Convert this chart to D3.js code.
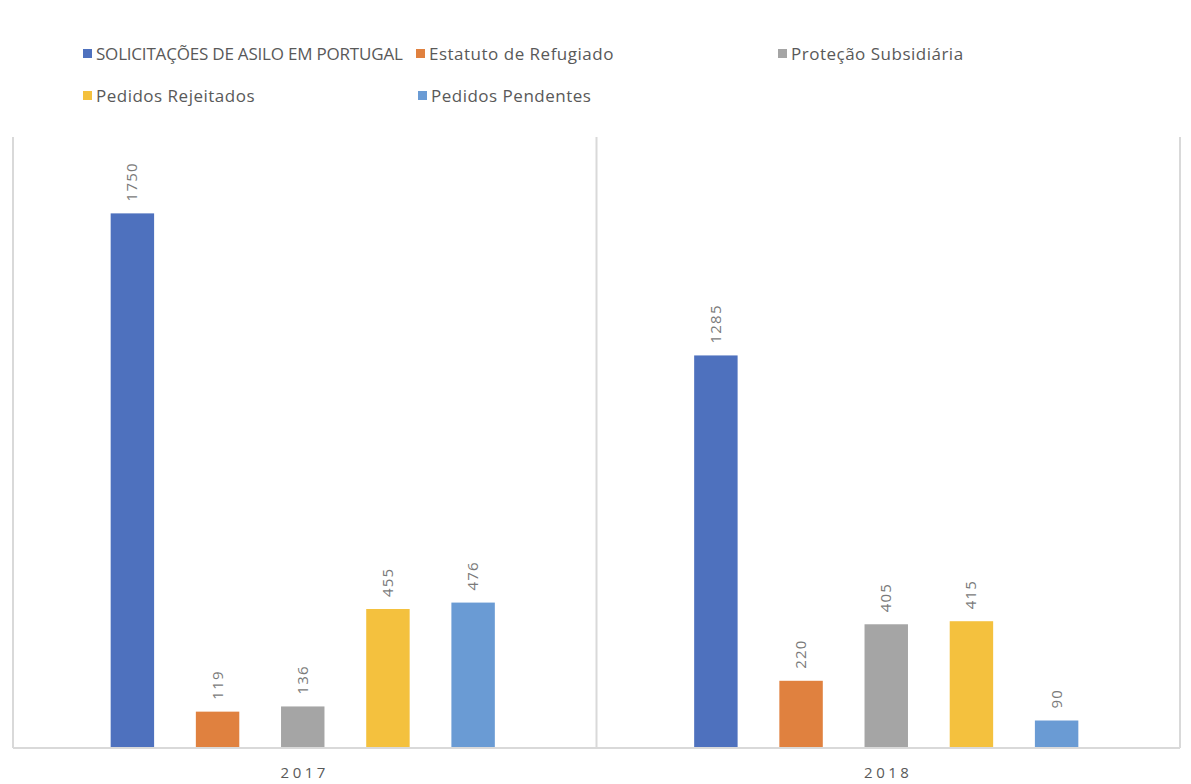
<!DOCTYPE html>
<html>
<head>
<meta charset="utf-8">
<script src="https://cdn.jsdelivr.net/npm/d3@7"></script>
<style>
  html, body { margin: 0; padding: 0; background: #fff; }
  svg { display: block; font-family: "Open Sans", "Noto Sans", sans-serif; }
</style>
</head>
<body>
<svg id="chart" width="1191" height="784"></svg>
<script>
// Asylum requests in Portugal, by outcome, per year
const years = ["2017", "2018"];
const seriesNames = [
  "SOLICITAÇÕES DE ASILO EM PORTUGAL",
  "Estatuto de Refugiado",
  "Proteção Subsidiária",
  "Pedidos Rejeitados",
  "Pedidos Pendentes"
];
const values2017 = [1750, 119, 136, 455, 476];
const values2018 = [1285, 220, 405, 415, 90];
const seriesColors = ["#4e71be", "#e0813f", "#a5a5a5", "#f4c13e", "#6a9bd4"];

const valuesByYear = { "2017": values2017, "2018": values2018 };

const svg = d3.select("#chart");
const plot = { left: 13, right: 1180, top: 137, bottom: 748 };

const x0 = d3.scaleBand().domain(years).range([plot.left, plot.right]).padding(0);
const x1 = d3.scaleBand().domain(seriesNames)
  .range([-2, x0.bandwidth() - 2])
  .paddingInner(0.49)
  .paddingOuter(1.17);
const y = d3.scaleLinear().domain([0, 2000]).range([plot.bottom, plot.top]);

const axisColor = "#d9d9d9";

// Category separators (left, middle, right)
const sepX = years.map(d => x0(d)).concat([x0(years[years.length - 1]) + x0.bandwidth()]);
svg.append("g").selectAll("line").data(sepX).join("line")
  .attr("x1", d => d).attr("x2", d => d)
  .attr("y1", plot.top).attr("y2", plot.bottom)
  .attr("stroke", axisColor).attr("stroke-width", 2);

// Bars
const groups = svg.append("g").selectAll("g").data(years).join("g")
  .attr("transform", d => `translate(${x0(d)},0)`);

groups.selectAll("rect")
  .data(yr => seriesNames.map((s, i) => ({ s, i, v: valuesByYear[yr][i] })))
  .join("rect")
  .attr("x", d => x1(d.s))
  .attr("width", x1.bandwidth())
  .attr("y", d => y(d.v))
  .attr("height", d => y(0) - y(d.v))
  .attr("fill", d => seriesColors[d.i]);

// Value labels, rotated above each bar
groups.selectAll("text.val")
  .data(yr => seriesNames.map((s, i) => ({ s, i, v: valuesByYear[yr][i] })))
  .join("text")
  .attr("class", "val")
  .attr("transform", d => `translate(${x1(d.s) + x1.bandwidth() / 2 + 5},${y(d.v) - 12}) rotate(-90)`)
  .attr("text-anchor", "start")
  .attr("font-size", 15)
  .attr("letter-spacing", "1.2px")
  .attr("fill", "#7a7a7a")
  .text(d => d.v);

// Horizontal category axis
svg.append("line")
  .attr("x1", plot.left).attr("x2", plot.right)
  .attr("y1", plot.bottom).attr("y2", plot.bottom)
  .attr("stroke", axisColor).attr("stroke-width", 2);

const xAxis = d3.axisBottom(x0).tickSize(0).tickPadding(19);
const gx = svg.append("g").attr("transform", `translate(0,${plot.bottom})`).call(xAxis);
gx.select(".domain").remove();
gx.selectAll("text")
  .attr("font-size", 15)
  .attr("fill", "#595959")
  .attr("letter-spacing", "3.5px")
  .attr("font-family", "\"Open Sans\", sans-serif");

// Legend
const legendPos = [
  { x: 83, y: 54 }, { x: 416, y: 54 }, { x: 778, y: 54 },
  { x: 83, y: 96 }, { x: 418, y: 96 }
];
const legend = svg.append("g").selectAll("g").data(seriesNames).join("g")
  .attr("transform", (d, i) => `translate(${legendPos[i].x},${legendPos[i].y})`);
legend.append("rect")
  .attr("x", 0).attr("y", -5).attr("width", 9).attr("height", 9)
  .attr("fill", (d, i) => seriesColors[i]);
legend.append("text")
  .attr("x", 13).attr("y", 0).attr("dy", "0.35em")
  .attr("font-size", 17)
  .attr("letter-spacing", d => (d === d.toUpperCase() ? "-0.2px" : "0.5px"))
  .attr("fill", "#595959")
  .text(d => d);
</script>
</body>
</html>
